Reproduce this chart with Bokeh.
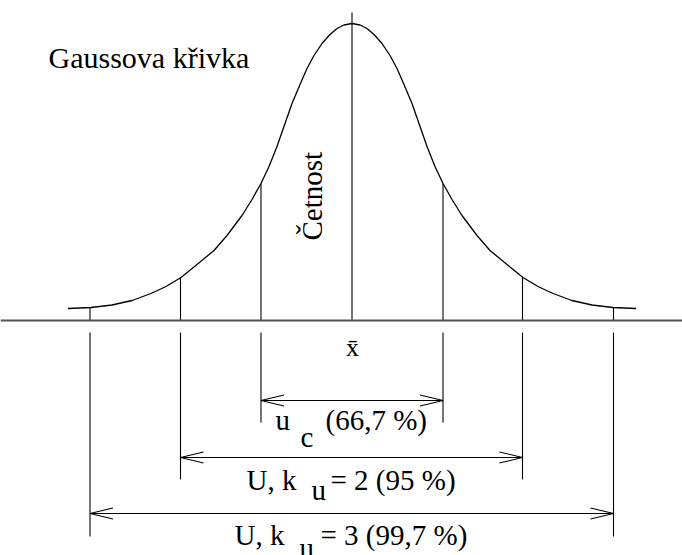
from bokeh.plotting import figure
from bokeh.models import Range1d, ColumnDataSource, Span
from bokeh.core.properties import value
from bokeh.embed import file_html
from bokeh.resources import INLINE

# ---- data (in picture units: x right, y down) ----
curve_x = [67.5, 90.5, 111.5, 131.5, 150.5, 165.5, 180.5, 196.5, 213.5, 226.5,
           241.5, 251.5, 260.5, 268.5, 276.5, 284.5, 291.5, 299.5, 306.5, 313.5,
           321.5, 329.5, 336.5, 343.5, 351.5,
           359.5, 366.5, 373.5, 381.5, 389.5, 396.5, 403.5, 411.5, 418.5, 426.5,
           434.5, 442.5, 451.5, 461.5, 476.5, 489.5, 506.5, 522.5, 537.5, 552.5,
           571.5, 591.5, 612.5, 635.5]
curve_y = [308, 307, 304.5, 300, 293, 286, 277, 264, 250, 235,
           215, 199, 183, 166, 146, 123, 103, 84, 68, 55,
           43, 34, 28, 24.5, 23,
           24.5, 28, 34, 43, 55, 68, 84, 103, 123, 146,
           166, 183, 199, 215, 235, 250, 264, 277, 286, 293,
           300, 304.5, 307, 308]

marker_x = [89.5, 180, 260.5, 351.5, 442.5, 522, 613]
marker_top = [307, 277, 183, 12, 183, 277, 307]
axis_y = 320

below_x = [260.5, 442.5, 180, 522, 89.5, 613]
below_top = [332, 332, 332, 332, 332, 332]
below_bottom = [422, 422, 479, 479, 536, 536]

arrow_left = [260.5, 180, 89.5]
arrow_right = [442.5, 522, 613]
arrow_y = [400, 457, 513]

title_text = "Gaussova křivka"
ylabel_text = "Četnost"
mean_text = "x\u0304"

# label pieces: main text, subscript, rest (baselines)
lab_main = ["u", "U, k", "U, k"]
lab_main_x = [275, 246, 234]
lab_sub = ["c", "u", "u"]
lab_sub_x = [300, 311, 299]
lab_rest = ["(66,7 %)", "= 2 (95 %)", "= 3 (99,7 %)"]
lab_rest_x = [325, 330, 320]
lab_base_y = [430, 490, 545]
lab_sub_y = [447, 500, 558]

FONT = value("Liberation Serif")
BASE_SHIFT = 0.35  # em offset between requested and drawn baseline in this renderer

W, H = 682, 555
p = figure(width=W, height=H, x_range=Range1d(0, W), y_range=Range1d(H, 0),
           output_backend="svg", toolbar_location=None, min_border=0)
p.axis.visible = False
p.grid.visible = False
p.outline_line_color = None
p.background_fill_color = "white"
p.border_fill_color = "white"

# horizontal axis line
p.add_layout(Span(location=axis_y, dimension="width", line_color="#555555", line_width=2))

# curve
p.line(curve_x, curve_y, line_color="black", line_width=1.3)

# vertical lines from axis up to curve
p.segment(x0=marker_x, y0=[axis_y] * len(marker_x), x1=marker_x, y1=marker_top,
          line_color="black", line_width=1.1)

# vertical lines below axis
p.segment(x0=below_x, y0=below_top, x1=below_x, y1=below_bottom,
          line_color="black", line_width=1.1)

# double arrows
p.segment(x0=arrow_left, y0=arrow_y, x1=arrow_right, y1=arrow_y,
          line_color="black", line_width=1.1)
HL, HW = 23, 5.5
head_xs, head_ys = [], []
for xl, xr, yy in zip(arrow_left, arrow_right, arrow_y):
    head_xs.append([xl + HL, xl, xl + HL])
    head_ys.append([yy - HW, yy, yy + HW])
    head_xs.append([xr - HL, xr, xr - HL])
    head_ys.append([yy - HW, yy, yy + HW])
p.multi_line(head_xs, head_ys, line_color="black", line_width=1.1)

# texts
TS, LS, RS, MS = 30, 29, 29, 26
p.text(x=[48], y=[67 - BASE_SHIFT * TS], text=[title_text], text_font=FONT,
       text_font_size=f"{TS}px", text_baseline="alphabetic", text_align="left",
       text_color="black")
p.text(x=[322 - BASE_SHIFT * LS], y=[240], text=[ylabel_text], angle=1.5708,
       text_font=FONT, text_font_size=f"{LS}px", text_baseline="alphabetic",
       text_align="left", text_color="black")
p.text(x=[352], y=[356 - BASE_SHIFT * MS], text=[mean_text], text_font=FONT,
       text_font_size=f"{MS}px", text_baseline="alphabetic", text_align="center",
       text_color="black")

src = ColumnDataSource(dict(mx=lab_main_x, m=lab_main, sx=lab_sub_x, s=lab_sub,
                            rx=lab_rest_x, r=lab_rest,
                            by=[v - BASE_SHIFT * RS for v in lab_base_y],
                            sy=[v - BASE_SHIFT * RS for v in lab_sub_y]))
for xc, tc, yc in (("mx", "m", "by"), ("sx", "s", "sy"), ("rx", "r", "by")):
    p.text(x=xc, y=yc, text=tc, source=src, text_font=FONT, text_font_size=f"{RS}px",
           text_baseline="alphabetic", text_align="left", text_color="black")

open("out.html", "w").write(file_html(p, INLINE))
